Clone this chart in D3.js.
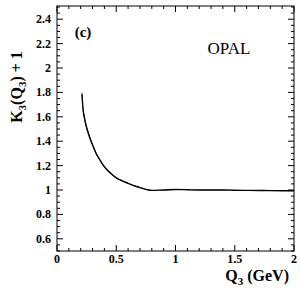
<!DOCTYPE html>
<html><head><meta charset="utf-8">
<script src="https://cdn.jsdelivr.net/npm/d3@7"></script>
<style>body{margin:0;background:#fff}svg{display:block}</style>
</head><body>
<script>
const qValues = [0.21,0.215,0.22,0.23,0.24,0.26,0.28,0.30,0.335,0.36,0.40,0.45,0.50,0.55,0.60,0.65,0.70,0.75,0.80,0.90,1.0,1.1,1.2,1.3,1.4,1.5,1.6,1.7,1.8,1.9,2.0];
const kValues = [1.79,1.72,1.66,1.60,1.55,1.48,1.42,1.37,1.29,1.25,1.19,1.14,1.10,1.075,1.055,1.035,1.02,1.005,0.997,1.0,1.004,1.002,1.0,1.0,1.0,0.998,0.997,0.996,0.995,0.994,0.993];
const kErrors = [0.03,0.03,0.025,0.02,0.02,0.015,0.012,0.01,0.008,0.007,0.006,0.005,0.004,0.004,0.003,0.003,0.003,0.003,0.003,0.003,0.003,0.003,0.003,0.003,0.003,0.003,0.003,0.003,0.003,0.003,0.003];
const xTicks = [0,0.5,1,1.5,2];
const xTickLabels = ["0","0.5","1","1.5","2"];
const yTicks = [0.6,0.8,1,1.2,1.4,1.6,1.8,2,2.2,2.4];
const yTickLabels = ["0.6","0.8","1","1.2","1.4","1.6","1.8","2","2.2","2.4"];

const W=300,H=294;
const L=57,R=294,T=6,B=251;
const svg=d3.select("body").append("svg").attr("width",W).attr("height",H);
const x=d3.scaleLinear().domain([0,2]).range([L,R]);
const y=d3.scaleLinear().domain([0.5,2.5]).range([B,T+1]);
const font="'Liberation Serif','Times New Roman',serif";

// frame
svg.append("rect").attr("x",L).attr("y",T).attr("width",R-L).attr("height",B-T)
  .attr("fill","none").attr("stroke","#000").attr("stroke-width",1);

// ticks
const g=svg.append("g").attr("stroke","#000").attr("stroke-width",1);
d3.range(0,2.0001,0.1).forEach(v=>{
  const major=Math.abs(v*2-Math.round(v*2))<1e-6;
  const len=major?6:3;
  g.append("line").attr("x1",x(v)).attr("x2",x(v)).attr("y1",B).attr("y2",B-len);
  g.append("line").attr("x1",x(v)).attr("x2",x(v)).attr("y1",T).attr("y2",T+len);
});
d3.range(0.5,2.5001,0.05).forEach(v=>{
  const major=Math.abs(v*5-Math.round(v*5))<1e-6;
  const len=major?6:3;
  g.append("line").attr("y1",y(v)).attr("y2",y(v)).attr("x1",L).attr("x2",L+len);
  g.append("line").attr("y1",y(v)).attr("y2",y(v)).attr("x1",R).attr("x2",R-len);
});

// tick labels
xTicks.forEach((v,i)=>{
  svg.append("text").attr("x",x(v)).attr("y",263).attr("text-anchor","middle")
    .attr("font-family",font).attr("font-weight","bold").attr("font-size",12).text(xTickLabels[i]);
});
yTicks.forEach((v,i)=>{
  svg.append("text").attr("x",51).attr("y",y(v)+4).attr("text-anchor","end")
    .attr("font-family",font).attr("font-weight","bold").attr("font-size",12).text(yTickLabels[i]);
});

// data band + line
const pts=qValues.map((q,i)=>({q,k:kValues[i],e:kErrors[i]}));
svg.append("path").datum(pts)
  .attr("d",d3.area().x(d=>x(d.q)).y0(d=>y(d.k-d.e)).y1(d=>y(d.k+d.e)).curve(d3.curveMonotoneX))
  .attr("fill","#333");
svg.append("path").datum(pts)
  .attr("d",d3.line().x(d=>x(d.q)).y(d=>y(d.k)).curve(d3.curveMonotoneX))
  .attr("fill","none").attr("stroke","#000").attr("stroke-width",1.4);

// annotations
svg.append("text").attr("x",83).attr("y",37).attr("text-anchor","middle")
  .attr("font-family",font).attr("font-weight","bold").attr("font-size",15).text("(c)");
svg.append("text").attr("x",229).attr("y",54).attr("text-anchor","middle")
  .attr("font-family",font).attr("font-size",17).text("OPAL");

// y label
const yl=svg.append("text").attr("transform","translate(22,87) rotate(-90)").attr("text-anchor","middle")
  .attr("font-family",font).attr("font-weight","bold").attr("font-size",16);
yl.append("tspan").text("K");
yl.append("tspan").attr("font-size",11).attr("dy",4).text("3");
yl.append("tspan").attr("dy",-4).text("(Q");
yl.append("tspan").attr("font-size",11).attr("dy",4).text("3");
yl.append("tspan").attr("dy",-4).text(") + 1");

// x label
const xl=svg.append("text").attr("x",289).attr("y",281).attr("text-anchor","end")
  .attr("font-family",font).attr("font-weight","bold").attr("font-size",16);
xl.append("tspan").text("Q");
xl.append("tspan").attr("font-size",11).attr("dy",4).text("3");
xl.append("tspan").attr("dy",-4).text(" (GeV)");
</script>
</body></html>
